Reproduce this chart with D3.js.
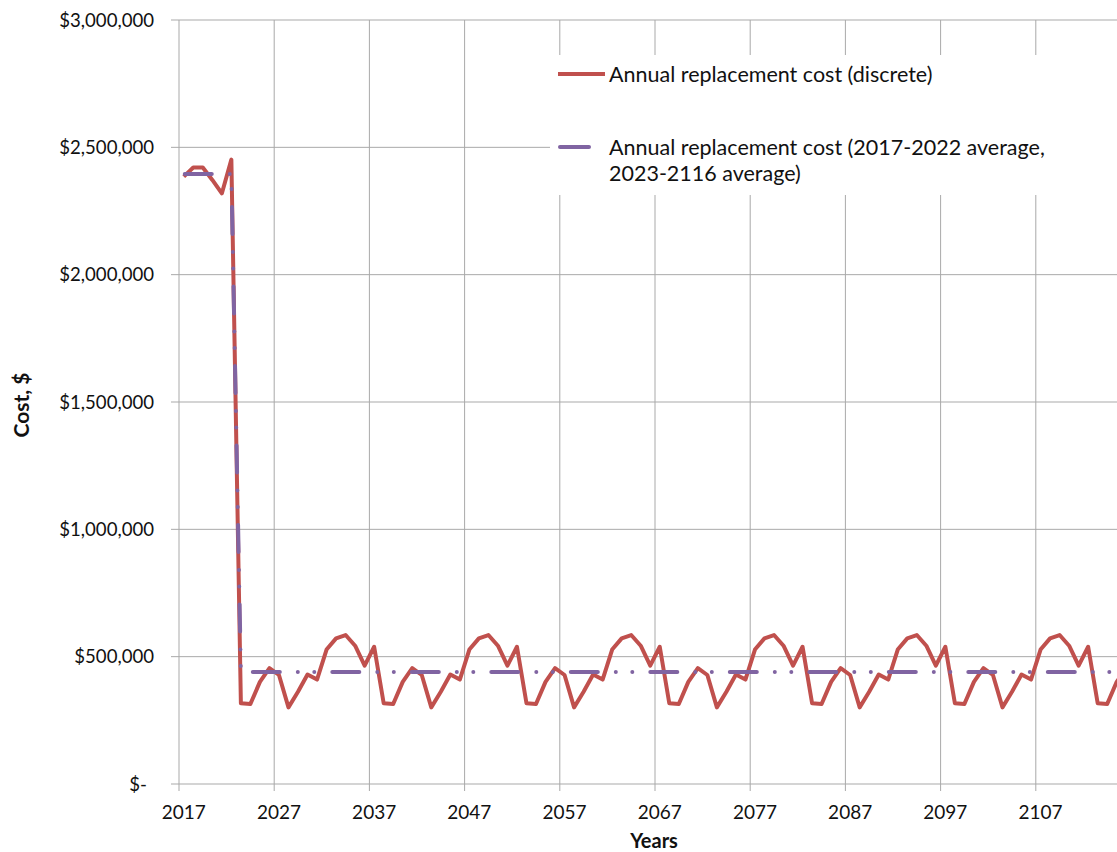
<!DOCTYPE html>
<html>
<head>
<meta charset="utf-8">
<script src="https://cdn.jsdelivr.net/npm/d3@7"></script>
<style>
  html, body { margin: 0; padding: 0; background: #fff; }
  svg { display: block; font-family: Lato, "Open Sans", sans-serif; }
</style>
</head>
<body>
<svg id="chart" width="1117" height="852"></svg>
<script>
// Categories: one per year
const years = d3.range(2017, 2117);

// Annual replacement cost (discrete), $ per year 2017-2116
const discreteCost = [
  2385000, 2421000, 2421000, 2372000, 2319000, 2452000,
  // 2023-2037
  317000, 314000, 401000, 455000, 428000, 301000, 362000, 430000, 410000, 528000, 572000, 585000, 543000, 465000, 539000,
  // 2038-2052
  317000, 314000, 401000, 455000, 428000, 301000, 362000, 430000, 410000, 528000, 572000, 585000, 543000, 465000, 539000,
  // 2053-2067
  317000, 314000, 401000, 455000, 428000, 301000, 362000, 430000, 410000, 528000, 572000, 585000, 543000, 465000, 539000,
  // 2068-2082
  317000, 314000, 401000, 455000, 428000, 301000, 362000, 430000, 410000, 528000, 572000, 585000, 543000, 465000, 539000,
  // 2083-2097
  317000, 314000, 401000, 455000, 428000, 301000, 362000, 430000, 410000, 528000, 572000, 585000, 543000, 465000, 539000,
  // 2098-2112
  317000, 314000, 401000, 455000, 428000, 301000, 362000, 430000, 410000, 528000, 572000, 585000, 543000, 465000, 539000,
  // 2113-2116
  317000, 314000, 401000, 455000
];

// Period averages of the annual replacement cost
const averagePeriods = [
  { from: 2017, to: 2022, value: 2395000 },
  { from: 2023, to: 2116, value: 440000 }
];

// Axis ticks and labels
const yTicks = [0, 500000, 1000000, 1500000, 2000000, 2500000, 3000000];
const xLabelYears = [2017, 2027, 2037, 2047, 2057, 2067, 2077, 2087, 2097, 2107];

const legendLabels = [
  ["Annual replacement cost (discrete)"],
  ["Annual replacement cost (2017-2022 average,", "2023-2116 average)"]
];

const colors = { discrete: "#C0504D", average: "#8064A2", grid: "#A9A9A9", text: "#111" };

const svg = d3.select("#chart");

const plot = { left: 179, top: 20, bottom: 784, step: 9.52 };

const x = d3.scaleBand()
  .domain(years)
  .range([plot.left, plot.left + plot.step * years.length])
  .padding(0);
const xc = yr => x(yr) + x.bandwidth() / 2;

const y = d3.scaleLinear().domain([0, 3000000]).range([plot.bottom, plot.top]);
const plotRight = plot.left + plot.step * years.length;

// Horizontal gridlines + y tick marks
const gGrid = svg.append("g");
gGrid.selectAll("line.h").data(yTicks).join("line")
  .attr("x1", plot.left - 8).attr("x2", plotRight)
  .attr("y1", d => y(d)).attr("y2", d => y(d))
  .attr("stroke", colors.grid).attr("stroke-width", 1);

// Vertical gridlines at every tenth category boundary, with tick marks below
gGrid.selectAll("line.v").data(xLabelYears).join("line")
  .attr("x1", d => x(d)).attr("x2", d => x(d))
  .attr("y1", plot.top).attr("y2", plot.bottom + 7)
  .attr("stroke", colors.grid).attr("stroke-width", 1);

// Y tick labels
const fmt = d3.format("$,.0f");
svg.append("g").selectAll("text").data(yTicks).join("text")
  .attr("x", d => d === 0 ? 147 : 154)
  .attr("y", d => y(d))
  .attr("dy", "0.35em")
  .attr("text-anchor", "end")
  .attr("font-size", 18.6)
  .attr("fill", colors.text)
  .text(d => d === 0 ? "$-" : fmt(d));

// X tick labels at category centres
svg.append("g").selectAll("text").data(xLabelYears).join("text")
  .attr("x", d => xc(d))
  .attr("y", 819)
  .attr("text-anchor", "middle")
  .attr("font-size", 19)
  .attr("fill", colors.text)
  .text(d => d);

// Axis titles
svg.append("text")
  .attr("transform", `translate(29,405) rotate(-90)`)
  .attr("text-anchor", "middle")
  .attr("font-size", 21).attr("font-weight", "bold")
  .attr("fill", colors.text)
  .text("Cost, $");

svg.append("text")
  .attr("x", 654).attr("y", 848)
  .attr("text-anchor", "middle")
  .attr("font-size", 20).attr("font-weight", "bold")
  .attr("fill", colors.text)
  .text("Years");

// Series lines
const line = d3.line().x(d => xc(d.year)).y(d => y(d.value));

const discreteData = years.map((yr, i) => ({ year: yr, value: discreteCost[i] }));
const averageData = years.map(yr => ({
  year: yr,
  value: averagePeriods.find(p => yr >= p.from && yr <= p.to).value
}));

svg.append("path")
  .datum(discreteData)
  .attr("d", line)
  .attr("fill", "none")
  .attr("stroke", colors.discrete)
  .attr("stroke-width", 4)
  .attr("stroke-linejoin", "round");

svg.append("path")
  .datum(averageData)
  .attr("d", line)
  .attr("fill", "none")
  .attr("stroke", colors.average)
  .attr("stroke-width", 4)
  .attr("stroke-linecap", "round")
  .attr("stroke-dasharray", "27,18,0,16.5,0,18")
  .attr("stroke-dashoffset", -1);

// Legend
const legend = svg.append("g");
legend.append("rect")
  .attr("x", 550).attr("y", 55).attr("width", 600).attr("height", 140)
  .attr("fill", "#fff");

legend.append("line")
  .attr("x1", 558).attr("x2", 605).attr("y1", 74).attr("y2", 74)
  .attr("stroke", colors.discrete).attr("stroke-width", 4);
legend.append("line")
  .attr("x1", 560).attr("x2", 589).attr("y1", 147).attr("y2", 147)
  .attr("stroke", colors.average).attr("stroke-width", 4)
  .attr("stroke-linecap", "round");

const legendY = [81.5, 154.5];
legendLabels.forEach((lines, k) => {
  const t = legend.append("text")
    .attr("x", 609).attr("y", legendY[k])
    .attr("font-size", 21.5)
    .attr("fill", colors.text);
  lines.forEach((s, j) => {
    t.append("tspan").attr("x", 609).attr("dy", j === 0 ? 0 : 26).text(s);
  });
});
</script>
</body>
</html>
